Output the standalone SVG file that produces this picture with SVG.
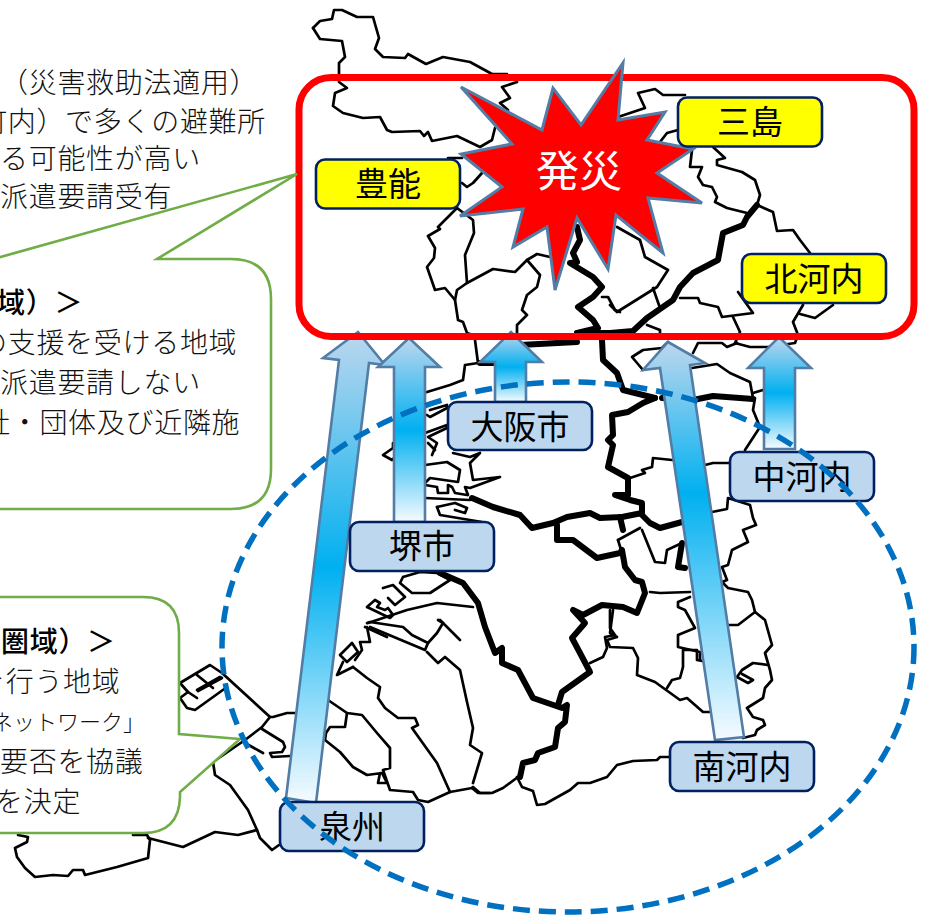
<svg xmlns="http://www.w3.org/2000/svg" width="927" height="915" viewBox="0 0 927 915">
<style>
.m{fill:none;stroke:#000;stroke-width:2.7;stroke-linejoin:round;stroke-linecap:round}
.t{fill:none;stroke:#000;stroke-width:6;stroke-linejoin:round;stroke-linecap:round}
.co{fill:#fff;stroke:#70ad47;stroke-width:2.6;stroke-linejoin:miter}
.tx{font-family:"Noto Sans CJK JP","Liberation Serif",serif;font-size:28px;letter-spacing:.7px;fill:#111;font-weight:300}
.hd{font-family:"Noto Sans CJK JP","Liberation Serif",serif;font-size:28px;letter-spacing:.7px;fill:#000;font-weight:500}
.y{fill:#ff0;stroke:#002060;stroke-width:2.6}
.b{fill:#bdd7ee;stroke:#002060;stroke-width:2.6}
.lb{font-family:"Noto Sans CJK JP","Noto Sans",sans-serif;font-size:33px;fill:#000;text-anchor:middle}
.ar{fill:url(#g);stroke:#527da6;stroke-width:2.6;stroke-linejoin:miter}
</style>
<defs>
<linearGradient id="g" x1="0.5" y1="0" x2="0.5" y2="1">
<stop offset="0" stop-color="#bdd7ee"/>
<stop offset="0.5" stop-color="#00b0f0"/>
<stop offset="1" stop-color="#f7fbff"/>
</linearGradient>
<linearGradient id="g2" x1="0.5" y1="0" x2="0.5" y2="1">
<stop offset="0" stop-color="#bdd7ee"/>
<stop offset="0.38" stop-color="#00b0f0"/>
<stop offset="1" stop-color="#f7fbff"/>
</linearGradient>
</defs>
<rect width="927" height="915" fill="#fff"/>
<g id="map">
<polyline class="m" points="313,28 320,21 332,19 334,10 342,10 357,17 373,17 379,38 375,49 383,57 405,58 408,54 426,64 443,57 470,62 492,74 507,74"/>
<polyline class="m" points="313,28 320,39 342,41 345,57 339,63 339,82 347,88 335,93 333,106 343,113 363,118 380,117 387,130 392,132 420,131 424,136 428,132 432,141 457,136 480,147 492,140 495,128"/>
<polyline class="m" points="517,82 502,87 510,98 500,103 508,110"/>
<polyline class="m" points="448,158 462,158"/>
<polyline class="m" points="462,183 467,187 473,183 482,173"/>
<polyline class="m" points="457,208 438,227 440,229 428,236 435,248 434,258 427,267 435,290 445,288 455,300 458,320 463,322 467,333 470,334"/>
<polyline class="m" points="457,208 473,220 474,233 465,255 467,283"/>
<polyline class="m" points="455,300 457,290 467,283 493,269 515,272 527,260 540,275 537,287 527,295 522,310 527,315 517,325 517,334"/>
<polyline class="m" points="527,260 537,254 550,257"/>
<polyline class="m" points="602,297 608,297 615,310 620,312"/>
<polyline class="m" points="685,95 663,95 655,89 638,93 645,108 618,117"/>
<polyline class="m" points="678,130 667,133 660,142"/>
<polyline class="m" points="713,147 725,158 717,160 717,165 742,172 755,180 760,195 757,205"/>
<polyline class="m" points="692,150 690,167 702,167 698,177 703,185 712,187 717,197 715,202 727,208 747,213"/>
<polyline class="m" points="757,205 773,212 777,231 793,230 800,240 810,253"/>
<polyline class="m" points="738,292 753,313 722,317 718,307 700,303 698,298 680,298"/>
<polyline class="m" points="733,317 740,332 735,343 750,347 768,347 795,343 798,335 793,322 803,305"/>
<polyline class="m" points="800,314 815,318 833,305"/>
<polyline class="m" points="617,227 640,240 645,257 668,270 657,287 617,312 610,305"/>
<polyline class="m" points="653,288 660,308"/>
<polyline class="m" points="647,325 660,330 660,334"/>
<polyline class="m" points="693,353 698,343 722,343 727,347 737,343"/>
<polyline class="m" points="643,370 632,357 643,350 662,348 668,342"/>
<polyline class="m" points="692,368 717,364 730,373 750,382 753,398"/>
<polyline class="m" points="753,393 763,390"/>
<polyline class="m" points="755,398 753,410 760,427 745,450"/>
<polyline class="m" points="672,460 653,458 652,467 642,470 645,473 630,478"/>
<polyline class="m" points="705,465 713,463 730,463"/>
<polyline class="m" points="712,512 727,509 728,498 750,505 753,518 756,525 743,530 748,542 732,550 728,565 722,567 727,580 722,582 728,588 748,592 752,600 755,612 738,625 728,625"/>
<polyline class="m" points="755,612 765,620 772,645 765,653 770,670 772,680 765,688 763,698 747,708 753,717 763,720 765,725 757,730 755,735 743,738"/>
<polyline class="m" points="642,530 655,562 665,563 667,550 682,543"/>
<polyline class="m" points="618,540 640,528"/>
<polyline class="m" points="618,540 622,553"/>
<polyline class="m" points="650,592 660,593 690,592"/>
<polyline class="m" points="690,597 678,602 678,607 685,610 695,628 678,635 678,647 700,652 700,660"/>
<polyline class="m" points="613,610 610,633 617,637 607,640 610,647 633,648 638,658 637,675 655,682 680,700 687,698 703,712 710,712"/>
<polyline class="m" points="590,663 603,657 607,648 605,637 615,635 610,628 610,610"/>
<polyline class="m" points="667,688 672,680 680,678 683,667 683,650 697,650 697,660 702,661"/>
<polyline class="m" points="768,665 753,663 742,670 737,677 748,683 753,680 742,674"/>
<polyline class="m" points="517,777 522,787 533,791 537,805 545,804 570,790 578,783 590,783 607,777 617,765 633,761 657,760 660,757 670,757"/>
<polyline class="m" points="518,777 503,788 492,793 480,793 473,787 472,788"/>
<polyline class="m" points="473,783 482,753 470,745 473,728 467,702 460,670 445,657 438,663 427,652"/>
<polyline class="m" points="180,683 210,665 222,673 270,717 273,717 287,713 297,713"/>
<polyline class="m" points="180,683 188,692 180,698 187,708 195,710 227,687"/>
<polyline class="m" points="197,675 213,688"/>
<polyline class="m" points="188,692 197,698"/>
<polyline class="m" points="197,690 220,677 222,678 198,691"/>
<polyline class="m" points="270,717 262,727 245,740 213,762 215,775 230,785 248,810 257,830 260,838 272,850 279,845"/>
<polyline class="m" points="262,729 283,742 285,747 282,752 270,753 272,757 290,756"/>
<polyline class="m" points="245,743 263,753"/>
<polyline class="m" points="257,830 238,835 215,832 183,847 148,838"/>
<polyline class="m" points="18,835 28,837 27,842 15,848 17,857 25,868 35,877 53,875 68,876 73,870 83,870 85,875 117,867 148,858 150,840 147,835 133,835"/>
<polyline class="m" points="328,700 347,713 362,715 377,733 390,748 390,768 383,770 390,790 413,792 418,800 428,802 450,792 472,788 478,793 490,793"/>
<polyline class="m" points="347,713 345,727 330,727 326,733 325,740 340,752 353,767 367,775 382,773 387,783 378,783 380,773"/>
<polyline class="m" points="353,667 367,678 380,687 378,698 385,708 398,718 415,718 418,725 412,728 437,763 450,792"/>
<polyline class="m" points="367,623 370,622 403,627 412,635 428,643 425,650 370,627"/>
<polyline class="m" points="367,627 370,642 360,642 362,650 355,660"/>
<polyline class="m" points="340,655 352,643 358,652 347,662 340,655"/>
<polyline class="m" points="343,662 337,675 353,667"/>
<polyline class="m" points="428,643 437,633 443,623 438,620"/>
<polyline class="m" points="475,340 478,363 465,365 463,380 450,385 427,392"/>
<polyline class="m" points="430,410 447,405 447,408 430,417 427,415"/>
<polyline class="m" points="425,433 447,425 447,428 428,437 437,443 432,455"/>
<polyline class="m" points="428,443 435,450"/>
<polyline class="m" points="393,443 393,448 383,455 392,460 395,457"/>
<polyline class="m" points="425,465 447,462 460,470 458,482 430,478 425,483"/>
<polyline class="m" points="425,485 437,487 438,493 448,493 448,485 452,487 455,493 467,495"/>
<polyline class="m" points="453,453 470,457 480,453 470,463 473,480 500,477 470,488 465,487 468,495"/>
<polyline class="m" points="425,498 470,500"/>
<polyline class="m" points="437,507 455,503 467,508 465,513 455,510"/>
<polyline class="m" points="437,507 440,515 482,522"/>
<polyline class="m" points="403,577 420,572 437,573 450,580 430,593 412,593 400,583 403,577"/>
<polyline class="m" points="383,588 393,585 405,597 395,605 388,598"/>
<polyline class="m" points="367,607 375,600 380,603 377,607 385,610 388,608 393,615 390,618 367,607"/>
<polyline class="m" points="368,623 407,610 437,603 473,607"/>
<polyline class="m" points="440,620 460,640"/>
<polyline class="m" points="365,627 387,637"/>
<polyline class="t" points="577,227 580,240 573,253 577,262 570,263 593,277 602,287 593,297 578,307 593,320 598,328 577,333"/>
<polyline class="t" points="757,205 747,217 743,225 723,233 718,260 693,273 680,287 673,300 647,318 633,331 610,333 577,333"/>
<polyline class="t" points="520,345 577,342"/>
<polyline class="t" points="602,340 603,360 617,373 623,390 655,398"/>
<polyline class="t" points="655,398 643,403 628,412 612,415 613,435 608,440 613,445 608,467 628,478 628,495 615,495 630,500 642,503 642,513 622,517 600,518 590,513 567,517 553,523 532,528 520,515 493,507 472,498"/>
<polyline class="t" points="642,515 650,523 660,528 682,522"/>
<polyline class="t" points="682,543 678,567 685,568"/>
<polyline class="t" points="620,517 623,530"/>
<polyline class="t" points="557,525 557,540 573,540 597,558 620,553 622,550 625,567 635,580 642,582 645,593 637,613 623,607 602,605 583,615 573,610 585,623 572,638 580,653 590,672 562,692 558,705"/>
<polyline class="t" points="662,398 693,400 713,396 753,399"/>
<polyline class="t" points="440,573 463,583 478,603 485,627 490,640 495,653 502,648 502,663 518,670 533,698 562,708 567,705 565,722 558,728 555,747 538,753 535,760 523,763 520,777"/>
<polyline class="t" points="480,363 495,363"/>
</g>
<g id="connectors">
<polygon class="ar" points="286,798 339,360 323,358 358,332 385,365 369,363 316,803"/>
<polygon class="ar" points="394,522 394,367 378,367 409,338 440,367 425,367 425,522"/>
<polygon class="ar" points="495,402 495,362 480,362 511,332 542,362 526,362 526,402"/>
<polygon class="ar" style="fill:url(#g2)" points="715,740 660,368 643,370 668,342 705,363 690,365 744,737"/>
<polygon class="ar" points="764,449 764,368 748,368 779,337 811,368 795,368 795,449"/>
</g>
<g id="flood-area">
<rect x="299" y="77.5" width="615" height="259" rx="32" fill="none" stroke="#f00" stroke-width="7"/>
</g>
<g id="callout-1">
<path class="co" d="M-60,274 L297,174 L157,259 L231,259 Q271,259 271,299 L271,469 Q271,509 231,509 L-60,509 Z"/>
<text class="tx" x="0" y="93">（災害救助法適用）</text>
<text class="tx" x="-21" y="132">町内）で多くの避難所</text>
<text class="tx" x="0" y="169">る可能性が高い</text>
<text class="tx" x="0" y="207">派遣要請受有</text>
<text class="hd" x="-3" y="313">域）＞</text>
<text class="tx" x="-21" y="353">の支援を受ける地域</text>
<text class="tx" x="0" y="393">派遣要請しない</text>
<text class="tx" x="-18" y="433">社・団体及び近隣施</text>
</g>
<g id="callout-2">
<path class="co" d="M-60,597 L143,597 Q179,597 179,633 L179,734 L240,739 L180,792 L180,797 Q179,833 143,833 L-60,833 Z"/>
<text class="hd" x="1" y="652">圏域）＞</text>
<text class="tx" x="-23" y="692">を行う地域</text>
<text class="tx" x="-9" y="730" style="font-size:22px;letter-spacing:0">ネットワーク」</text>
<text class="tx" x="0" y="772">要否を協議</text>
<text class="tx" x="-5" y="812">を決定</text>
</g>
<g id="burst">
<polygon points="461,87 542,130 553,88 581,125 623,63 618,120 665,112 647,140 693,149 657,173 702,203 648,198 663,253 616,215 608,269 577,218 555,290 547,227 513,247 523,209 460,216 502,187 461,154 512,144" fill="#f00" stroke="#527da6" stroke-width="3"/>
<text x="579" y="187" font-family="'Noto Sans CJK JP','Noto Sans',sans-serif" font-size="43" fill="#fff" text-anchor="middle">発災</text>
</g>
<g id="toyono"><rect class="y" x="316" y="159.5" width="144" height="49" rx="9"/><text class="lb" x="388" y="196">豊能</text></g>
<g id="mishima"><rect class="y" x="678" y="97.5" width="144" height="49" rx="9"/><text class="lb" x="750" y="134">三島</text></g>
<g id="kitakawachi"><rect class="y" x="742" y="254" width="144" height="49" rx="9"/><text class="lb" x="814" y="291">北河内</text></g>
<g id="osaka"><rect class="b" x="448" y="402" width="144" height="48" rx="9"/><text class="lb" x="520" y="439">大阪市</text></g>
<g id="sakai"><rect class="b" x="350" y="522" width="144" height="49" rx="9"/><text class="lb" x="422" y="558">堺市</text></g>
<g id="nakakawachi"><rect class="b" x="730" y="452" width="144" height="49" rx="9"/><text class="lb" x="802" y="489">中河内</text></g>
<g id="senshu"><rect class="b" x="280" y="802" width="144" height="49" rx="9"/><text class="lb" x="352" y="839">泉州</text></g>
<g id="minamikawachi"><rect class="b" x="670" y="742" width="144" height="49" rx="9"/><text class="lb" x="742" y="779">南河内</text></g>
<ellipse id="support-area" cx="568" cy="647" rx="346" ry="265" fill="none" stroke="#0070c0" stroke-width="5.5" stroke-dasharray="17 9"/>
</svg>
